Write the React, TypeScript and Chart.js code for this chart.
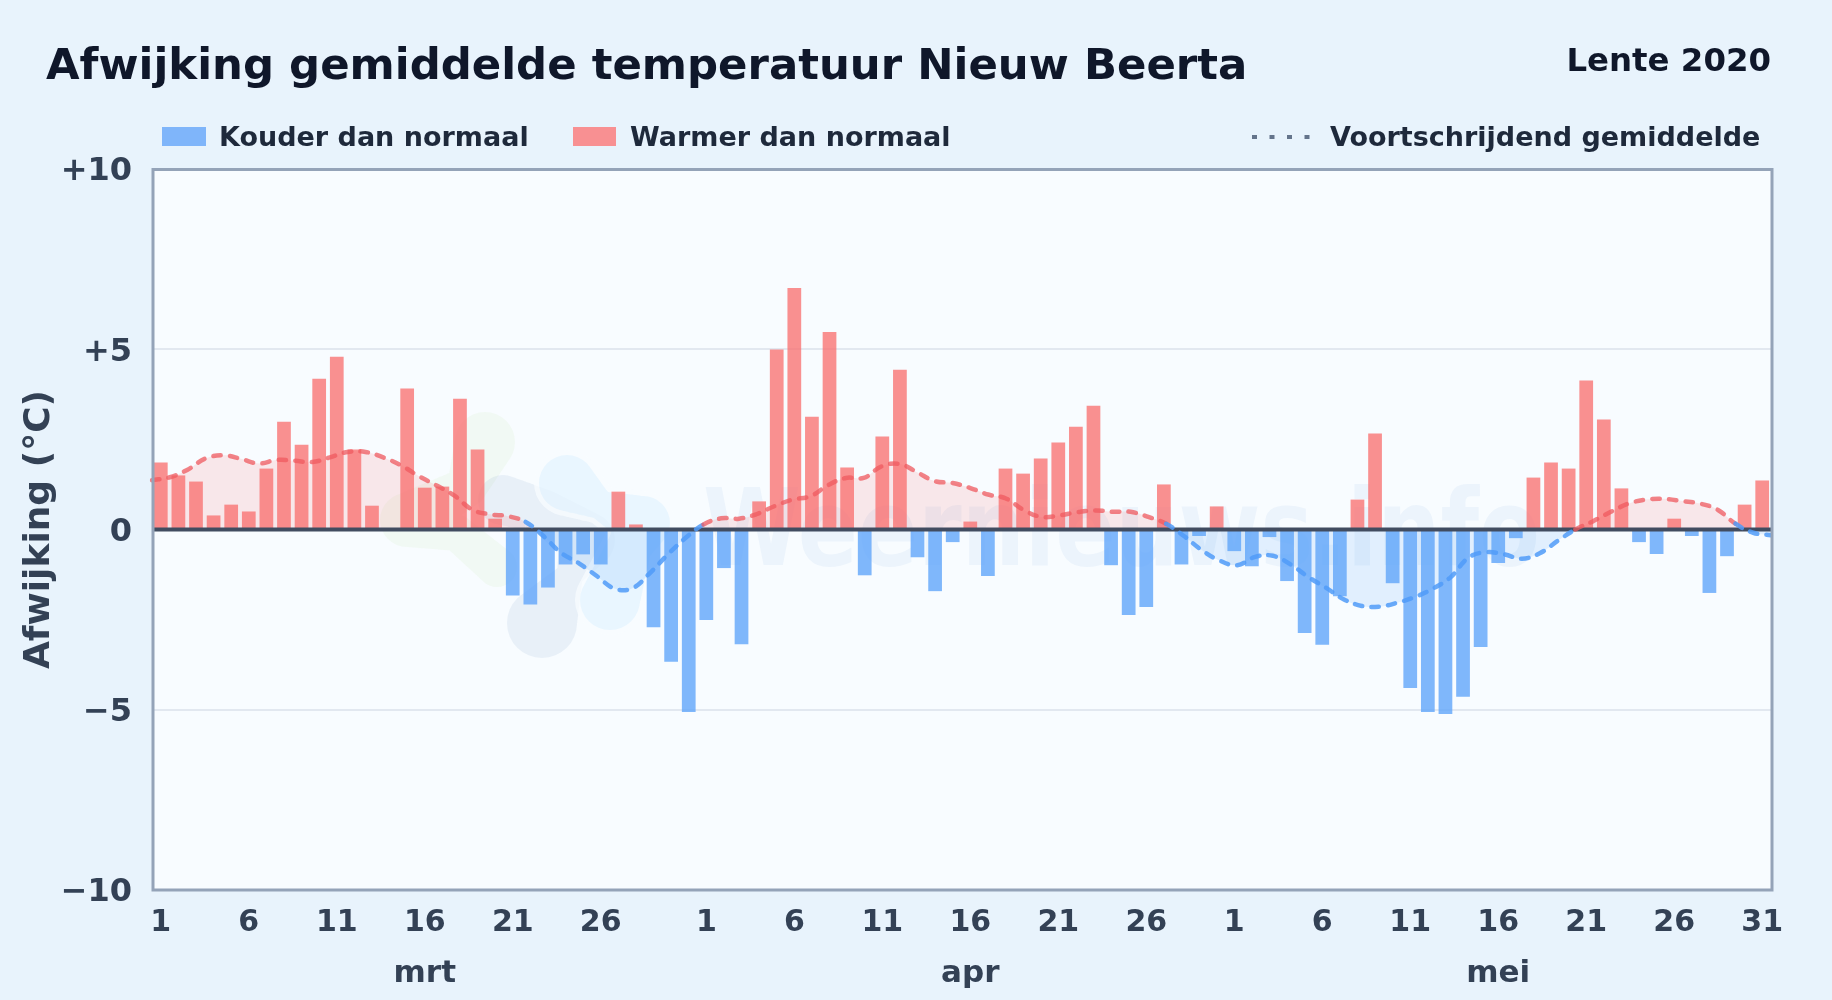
import React, { useEffect, useRef } from "react";
import { Chart, registerables } from "chart.js";

Chart.register(...registerables);

const days = [
  1,2,3,4,5,6,7,8,9,10,11,12,13,14,15,16,17,18,19,20,21,22,23,24,25,26,27,28,29,30,31,
  1,2,3,4,5,6,7,8,9,10,11,12,13,14,15,16,17,18,19,20,21,22,23,24,25,26,27,28,29,30,
  1,2,3,4,5,6,7,8,9,10,11,12,13,14,15,16,17,18,19,20,21,22,23,24,25,26,27,28,29,30,31,
];
const monthLabels: Record<number, string> = { 15: "mrt", 46: "apr", 76: "mei" };
const yTicks = ["−10", "−5", "0", "+5", "+10"];

const deviation = [
  1.86,1.5,1.33,0.39,0.69,0.5,1.69,2.99,2.35,4.18,4.79,2.22,0.66,0,3.91,1.16,1.19,3.63,2.22,0.3,-1.83,-2.08,-1.61,-0.97,-0.69,-0.97,1.05,0.14,-2.71,-3.67,-5.06,
  -2.51,-1.07,-3.18,0.78,4.99,6.7,3.13,5.48,1.72,-1.27,2.58,4.43,-0.77,-1.71,-0.35,0.22,-1.29,1.69,1.55,1.97,2.41,2.85,3.43,-0.99,-2.37,-2.15,1.25,-0.97,-0.18,0.64,
  -0.6,-1.02,-0.21,-1.43,-2.87,-3.2,-1.85,0.83,2.66,-1.49,-4.4,-5.06,-5.12,-4.64,-3.26,-0.93,-0.24,1.44,1.86,1.69,4.13,3.05,1.14,-0.35,-0.68,0.3,-0.18,-1.76,-0.74,0.69,1.36,
];
const movingAverage = [
  1.37,1.45,1.66,1.97,2.06,1.96,1.83,1.93,1.91,1.87,2.0,2.15,2.15,2.0,1.78,1.48,1.22,0.94,0.55,0.42,0.37,0.21,-0.18,-0.65,-0.94,-1.29,-1.64,-1.63,-1.2,-0.69,-0.23,
  0.14,0.31,0.3,0.43,0.65,0.83,0.92,1.23,1.43,1.43,1.75,1.82,1.59,1.34,1.29,1.15,0.97,0.86,0.54,0.35,0.39,0.48,0.53,0.49,0.49,0.35,0.16,-0.18,-0.57,-0.86,
  -0.99,-0.76,-0.73,-0.97,-1.32,-1.62,-1.94,-2.12,-2.14,-2.03,-1.87,-1.64,-1.32,-0.78,-0.63,-0.69,-0.81,-0.66,-0.32,0.0,0.23,0.49,0.72,0.83,0.85,0.79,0.72,0.55,0.16,-0.09,-0.16,
];

const titleText = "Afwijking gemiddelde temperatuur Nieuw Beerta";
const seasonText = "Lente 2020";
const coldLabel = "Kouder dan normaal";
const warmLabel = "Warmer dan normaal";
const avgLabel = "Voortschrijdend gemiddelde";
const watermarkText = "Weernieuws.info";
const FONT = '"DejaVu Sans", sans-serif';

const warmBar = "rgba(248,113,113,0.78)";
const coldBar = "rgba(96,165,250,0.8)";

const logoGreen = [[485, 442, 30], [467, 487, 20], [407, 520, 27], [457, 533, 18], [497, 567, 20]];
const logoSlate = [[503, 500, 25], [545, 512, 22], [587, 540, 28], [570, 575, 13], [542, 623, 35]];
const logoBlueTop = [[567, 483, 28], [600, 505, 14], [643, 523, 27], [630, 545, 22], [610, 600, 30]];

const chromePlugin = {
  id: "chrome",
  beforeDraw(chart: any) {
    const { ctx, chartArea: a } = chart;
    ctx.save();
    ctx.fillStyle = "#e8f3fc";
    ctx.fillRect(0, 0, chart.width, chart.height);
    ctx.fillStyle = "#f8fcff";
    ctx.fillRect(a.left, a.top, a.right - a.left, a.bottom - a.top);

    ctx.textBaseline = "alphabetic";
    ctx.fillStyle = "#0f172a";
    ctx.textAlign = "left";
    ctx.font = `bold 43.4px ${FONT}`;
    ctx.fillText(titleText, 46, 79);
    ctx.textAlign = "right";
    ctx.font = `bold 32.4px ${FONT}`;
    ctx.fillText(seasonText, 1771, 71);

    ctx.textAlign = "left";
    ctx.font = `bold 27px ${FONT}`;
    ctx.fillStyle = "#7fb5fa";
    ctx.fillRect(162, 127, 44, 19);
    ctx.fillStyle = "#f89092";
    ctx.fillRect(573, 127, 43, 19);
    ctx.fillStyle = "#1e293b";
    ctx.fillText(coldLabel, 219, 146);
    ctx.fillText(warmLabel, 630, 146);
    ctx.fillText(avgLabel, 1330, 146);
    ctx.strokeStyle = "#64748b";
    ctx.lineWidth = 4;
    ctx.setLineDash([5, 12.5]);
    ctx.beginPath();
    ctx.moveTo(1252, 137);
    ctx.lineTo(1310, 137);
    ctx.stroke();
    ctx.restore();
  },
  beforeDatasetsDraw(chart: any) {
    const { ctx } = chart;
    ctx.save();
    const blob = (color: string, nodes: number[][], grow = 0) => {
      ctx.fillStyle = color;
      ctx.beginPath();
      for (let i = 0; i < nodes.length - 1; i++) {
        for (let t = 0; t <= 16; t++) {
          const f = t / 16;
          const x = nodes[i][0] + (nodes[i + 1][0] - nodes[i][0]) * f;
          const y = nodes[i][1] + (nodes[i + 1][1] - nodes[i][1]) * f;
          const r = nodes[i][2] + (nodes[i + 1][2] - nodes[i][2]) * f + grow;
          ctx.moveTo(x + r, y);
          ctx.arc(x, y, r, 0, Math.PI * 2);
        }
      }
      ctx.fill();
    };
    blob("rgba(190,225,150,0.1)", logoGreen);
    blob("rgba(100,140,190,0.1)", logoSlate);
    blob("rgba(248,252,255,0.75)", logoBlueTop, 5);
    blob("rgba(90,190,250,0.09)", logoBlueTop);
    ctx.fillStyle = "rgba(70,130,210,0.065)";
    ctx.textAlign = "left";
    ctx.textBaseline = "alphabetic";
    ctx.font = `bold 107px ${FONT}`;
    ctx.fillText(watermarkText, 703, 565, 837);
    ctx.restore();
  },
  beforeDatasetDraw(chart: any, args: any) {
    if (args.index !== 2) return;
    const { ctx, chartArea: a, scales } = chart;
    const y0 = scales.y.getPixelForValue(0);
    ctx.save();
    ctx.strokeStyle = "#414c60";
    ctx.lineWidth = 4;
    ctx.beginPath();
    ctx.moveTo(a.left, y0);
    ctx.lineTo(a.right, y0);
    ctx.stroke();
    ctx.restore();
  },
  afterDatasetsDraw(chart: any) {
    const { ctx, chartArea: a } = chart;
    ctx.save();
    ctx.strokeStyle = "#94a3b8";
    ctx.lineWidth = 3;
    ctx.strokeRect(a.left + 1, a.top + 0.5, a.right - a.left, a.bottom - a.top - 0.5);
    ctx.restore();
  },
};

export default function App() {
  const ref = useRef<HTMLCanvasElement | null>(null);
  useEffect(() => {
    document.body.style.margin = "0";
    const labels = days.map((d, i) => `${i}-${d}`);
    const chart = new Chart(ref.current as HTMLCanvasElement, {
      type: "bar",
      plugins: [chromePlugin],
      data: {
        labels,
        datasets: [
          {
            label: coldLabel,
            data: deviation.map((v) => (v < 0 ? v : null)),
            backgroundColor: coldBar,
            grouped: false,
            barPercentage: 0.78,
            categoryPercentage: 1,
            order: 2,
          },
          {
            label: warmLabel,
            data: deviation.map((v) => (v > 0 ? v : null)),
            backgroundColor: warmBar,
            grouped: false,
            barPercentage: 0.78,
            categoryPercentage: 1,
            order: 2,
          },
          {
            type: "line",
            label: avgLabel,
            data: movingAverage,
            xAxisID: "xLine",
            pointRadius: 0,
            borderWidth: 4.5,
            borderCapStyle: "round",
            borderDash: [7.5, 9.2],
            tension: 0.4,
            borderColor: "rgba(239,90,95,0.75)",
            fill: {
              target: "origin",
              above: "rgba(248,113,113,0.15)",
              below: "rgba(96,165,250,0.15)",
            },
            segment: {
              borderColor: (c: any) =>
                c.p0.parsed.y < 0 || c.p1.parsed.y < 0 ? "rgba(80,155,248,0.85)" : "rgba(239,90,95,0.75)",
            },
            order: 1,
          },
        ] as any,
      },
      options: {
        responsive: false,
        animation: false,
        devicePixelRatio: 1,
        layout: { padding: { top: 169, right: 61, left: 0, bottom: 0 } },
        plugins: { legend: { display: false }, title: { display: false }, tooltip: { enabled: false } },
        scales: {
          x: {
            type: "category",
            offset: true,
            weight: 0,
            grid: { display: false },
            border: { display: false },
            afterFit: (s: any) => { s.height = 50; },
            ticks: {
              autoSkip: false,
              maxRotation: 0,
              minRotation: 0,
              padding: 7,
              color: "#334155",
              font: { family: FONT, weight: "bold", size: 30 },
              callback: (_v: any, i: number) => {
                const d = days[i];
                if (d % 5 !== 1 || (d === 31 && i < 80)) return null;
                return String(d);
              },
            },
          },
          xMonth: {
            type: "category",
            axis: "x",
            position: "bottom",
            offset: true,
            weight: 1,
            labels,
            grid: { display: false },
            border: { display: false },
            afterFit: (s: any) => { s.height = 60; },
            ticks: {
              autoSkip: false,
              maxRotation: 0,
              minRotation: 0,
              padding: 7,
              color: "#334155",
              font: { family: FONT, weight: "bold", size: 31 },
              callback: (_v: any, i: number) => monthLabels[i] ?? null,
            },
          },
          xLine: {
            type: "category",
            axis: "x",
            position: "bottom",
            offset: false,
            display: false,
            labels,
          },
          y: {
            min: -10,
            max: 10,
            afterFit: (s: any) => { s.width = 152; },
            border: { display: false },
            grid: { color: "#e2e8f0", lineWidth: 2, drawTicks: false },
            title: {
              display: true,
              text: "Afwijking (°C)",
              color: "#334155",
              font: { family: FONT, weight: "bold", size: 36 },
              padding: { top: 18, bottom: 0 },
            },
            ticks: {
              stepSize: 5,
              padding: 20,
              color: "#334155",
              font: { family: FONT, weight: "bold", size: 32, lineHeight: "6px" },
              callback: (_v: any, i: number) => ["", yTicks[i]],
            },
          },
        },
      } as any,
    });
    return () => chart.destroy();
  }, []);
  return (
    <div style={{ position: "absolute", left: 0, top: 0, width: 1832, height: 1000, background: "#e8f3fc" }}>
      <canvas ref={ref} width={1832} height={1000} style={{ display: "block", width: 1832, height: 1000 }} />
    </div>
  );
}
